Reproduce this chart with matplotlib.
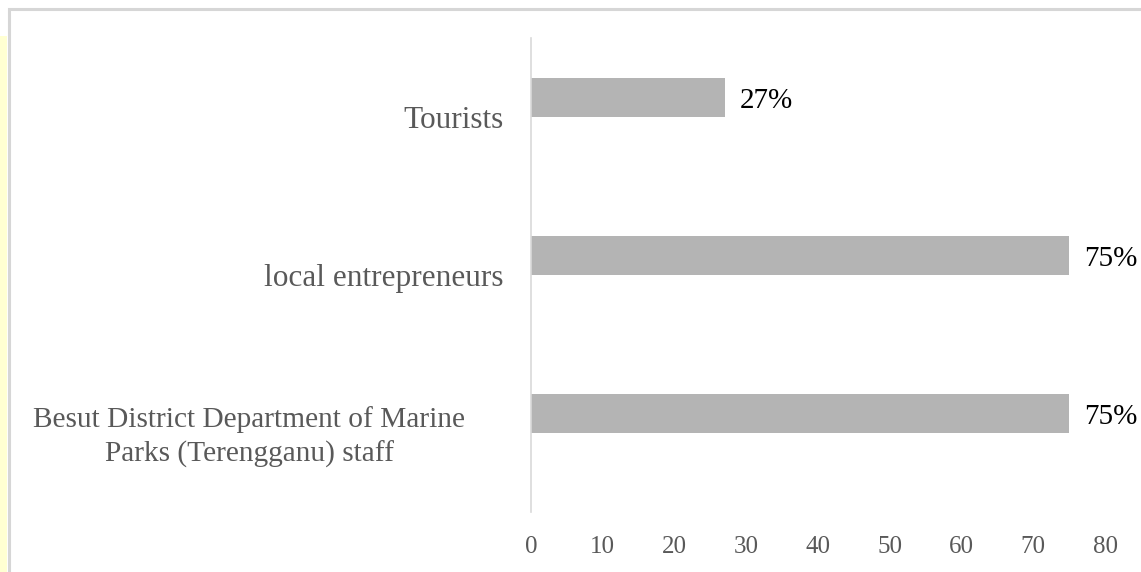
import matplotlib.pyplot as plt
import matplotlib.transforms as mtransforms
from matplotlib.patches import Rectangle

categories = ["Besut District Department of Marine\nParks (Terengganu) staff",
              "local entrepreneurs", "Tourists"]
values = [75, 75, 27]
value_labels = ["75%", "75%", "27%"]
xticks = [0, 10, 20, 30, 40, 50, 60, 70, 80]

plt.rcParams["font.family"] = ["Liberation Serif", "DejaVu Serif"]

W, H = 1141, 572
fig = plt.figure(figsize=(W / 100, H / 100), dpi=100)

# yellow strip and light gray frame (kept behind the axes)
fig.patches.append(Rectangle((0, 0), 7 / W, 1 - 36 / H, transform=fig.transFigure,
                             facecolor="#ffffd2", edgecolor="none", zorder=-2))
fig.patches.append(Rectangle((8.5 / W, -0.1), 1.2, 1 - 8.5 / H + 0.1, transform=fig.transFigure,
                             facecolor="white", edgecolor="#d6d6d6", linewidth=2.2, zorder=-1))

ax = fig.add_axes([531 / W, 1 - 512 / H, (1105 - 531) / W, (512 - 38) / H])
ax.set_facecolor("none")

pos = list(range(len(categories)))
bars = ax.barh([p + 0.125 for p in pos], values, height=0.25, color="#b4b4b4")
for b, lab in zip(bars, value_labels):
    ax.annotate(lab, (b.get_width(), b.get_y() + b.get_height() / 2),
                xytext=(11, -3), textcoords="offset points",
                ha="left", va="center", fontsize=21, color="black")

ax.set_xlim(0, 80)
ax.set_ylim(-0.5, 2.5)
ax.set_xticks(xticks)
ax.set_xticklabels([str(t) for t in xticks])
ax.set_yticks(pos)
ax.set_yticklabels(categories, multialignment="center", linespacing=1.38)
ax.tick_params(axis="x", length=0, pad=17, labelsize=18, labelcolor="#595959")
ax.tick_params(axis="y", length=0, pad=20, labelsize=22.5, labelcolor="#595959")

for s in ["top", "right", "bottom"]:
    ax.spines[s].set_visible(False)
ax.spines["left"].set_color("#d9d9d9")
ax.spines["left"].set_linewidth(1.2)

# the wrapped label is a touch smaller and sits left of the others
lbl = ax.get_yticklabels()[0]
lbl.set_fontsize(21.2)
lbl.set_transform(lbl.get_transform() + mtransforms.ScaledTranslation(-38 / 100, 0.03, fig.dpi_scale_trans))

fig.savefig("out.png", dpi=100)
